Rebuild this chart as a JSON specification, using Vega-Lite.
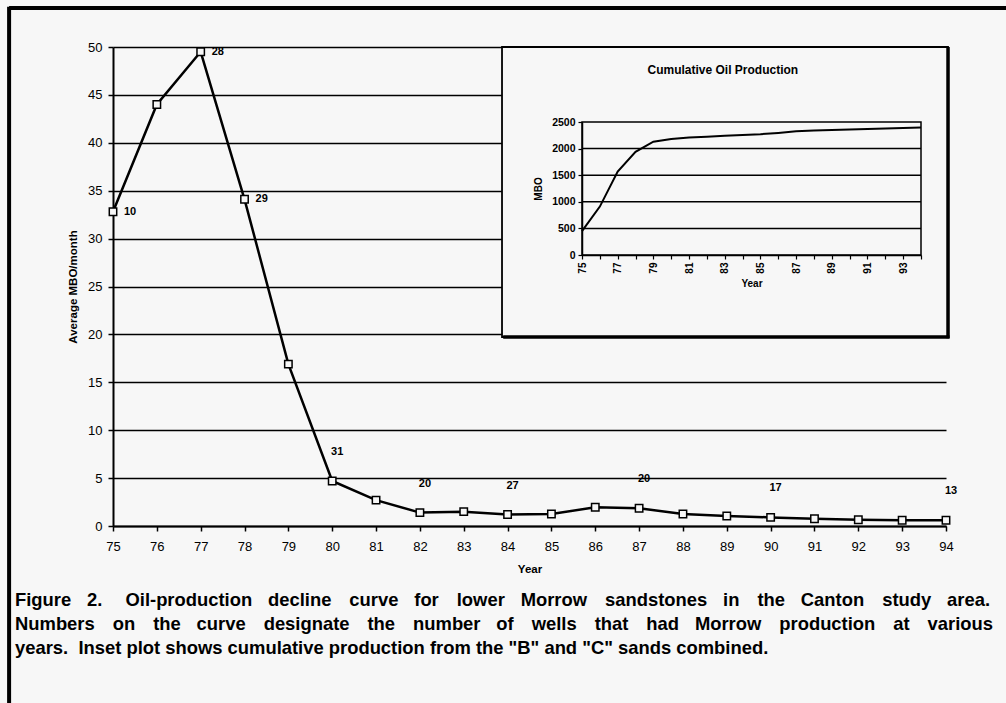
{
  "$schema": "https://vega.github.io/schema/vega-lite/v6.json",
  "width": 833,
  "height": 479,
  "autosize": "none",
  "padding": {"left": 113, "top": 47, "right": 60, "bottom": 177},
  "background": "#f7f7f7",
  "config": {
    "view": {"stroke": null},
    "font": "Liberation Sans",
    "axis": {"labelColor": "#000", "titleColor": "#000", "domainColor": "#000", "tickColor": "#000", "labelOverlap": false, "labelFlush": false}
  },
  "datasets": {
    "main": [
      {"year": 75, "mbo": 32.8, "wells": 10},
      {"year": 76, "mbo": 44.0},
      {"year": 77, "mbo": 49.5, "wells": 28},
      {"year": 78, "mbo": 34.1, "wells": 29},
      {"year": 79, "mbo": 16.9},
      {"year": 80, "mbo": 4.7, "wells": 31},
      {"year": 81, "mbo": 2.7},
      {"year": 82, "mbo": 1.4, "wells": 20},
      {"year": 83, "mbo": 1.5},
      {"year": 84, "mbo": 1.2, "wells": 27},
      {"year": 85, "mbo": 1.25},
      {"year": 86, "mbo": 1.95},
      {"year": 87, "mbo": 1.85, "wells": 20},
      {"year": 88, "mbo": 1.25},
      {"year": 89, "mbo": 1.05},
      {"year": 90, "mbo": 0.9, "wells": 17},
      {"year": 91, "mbo": 0.75},
      {"year": 92, "mbo": 0.65},
      {"year": 93, "mbo": 0.6},
      {"year": 94, "mbo": 0.6, "wells": 13}
    ],
    "cum": [
      {"yr": 75, "cum": 450},
      {"yr": 76, "cum": 910},
      {"yr": 77, "cum": 1570},
      {"yr": 78, "cum": 1940},
      {"yr": 79, "cum": 2130},
      {"yr": 80, "cum": 2180},
      {"yr": 81, "cum": 2210},
      {"yr": 82, "cum": 2225},
      {"yr": 83, "cum": 2240},
      {"yr": 84, "cum": 2255},
      {"yr": 85, "cum": 2270},
      {"yr": 86, "cum": 2295},
      {"yr": 87, "cum": 2325},
      {"yr": 88, "cum": 2340},
      {"yr": 89, "cum": 2350},
      {"yr": 90, "cum": 2360},
      {"yr": 91, "cum": 2370},
      {"yr": 92, "cum": 2380},
      {"yr": 93, "cum": 2385},
      {"yr": 94, "cum": 2395}
    ],
    "insetgrid": [{"g": 500}, {"g": 1000}, {"g": 1500}, {"g": 2000}],
    "one": [{}]
  },
  "layer": [
    {
      "layer": [
        {
          "data": {"name": "main"},
          "mark": {"type": "line", "color": "#000", "strokeWidth": 2.5},
          "encoding": {
            "x": {
              "field": "year", "type": "quantitative",
              "scale": {"domain": [75, 94], "nice": false, "zero": false},
              "axis": {
                "title": "Year",
                "values": [75, 76, 77, 78, 79, 80, 81, 82, 83, 84, 85, 86, 87, 88, 89, 90, 91, 92, 93, 94],
                "format": "d", "grid": false, "tickSize": 5, "tickWidth": 1.5,
                "domainWidth": 2, "labelFontSize": 13, "labelPadding": 9,
                "titleFontSize": 11.5, "titleFontWeight": "bold", "titlePadding": 10, "zindex": 0
              }
            },
            "y": {
              "field": "mbo", "type": "quantitative",
              "scale": {"domain": [0, 50], "nice": false, "zero": true},
              "axis": {
                "title": "Average MBO/month",
                "values": [0, 5, 10, 15, 20, 25, 30, 35, 40, 45, 50],
                "grid": true, "gridColor": "#000", "gridWidth": 1.6, "gridOpacity": 1,
                "tickSize": 5, "tickWidth": 1.5, "domainWidth": 2,
                "labelFontSize": 13, "labelPadding": 6,
                "titleFontSize": 11.5, "titleFontWeight": "bold", "titlePadding": 9, "zindex": 0
              }
            }
          }
        },
        {
          "data": {"name": "main"},
          "mark": {"type": "point", "shape": "square", "size": 55, "filled": true, "fill": "#f7f7f7", "stroke": "#000", "strokeWidth": 1.5, "opacity": 1},
          "encoding": {
            "x": {"field": "year", "type": "quantitative", "title": "Year"},
            "y": {"field": "mbo", "type": "quantitative", "title": "Average MBO/month"}
          }
        },
        {
          "data": {"name": "main"},
          "transform": [{"filter": "datum.wells != null && datum.year <= 78"}],
          "mark": {"type": "text", "align": "left", "baseline": "middle", "dx": 11, "fontSize": 11, "fontWeight": "bold", "color": "#000"},
          "encoding": {
            "x": {"field": "year", "type": "quantitative", "title": "Year"},
            "y": {"field": "mbo", "type": "quantitative", "title": "Average MBO/month"},
            "text": {"field": "wells", "type": "quantitative"}
          }
        },
        {
          "data": {"name": "main"},
          "transform": [{"filter": "datum.wells != null && datum.year >= 80"}],
          "mark": {"type": "text", "align": "center", "baseline": "middle", "dx": 5, "dy": -29, "fontSize": 11, "fontWeight": "bold", "color": "#000"},
          "encoding": {
            "x": {"field": "year", "type": "quantitative", "title": "Year"},
            "y": {"field": "mbo", "type": "quantitative", "title": "Average MBO/month"},
            "text": {"field": "wells", "type": "quantitative"}
          }
        },
        {
          "data": {"name": "one"},
          "mark": {"type": "rule", "color": "#000", "strokeWidth": 4},
          "encoding": {
            "x": {"datum": 72.63, "type": "quantitative"},
            "x2": {"datum": 95.5},
            "y": {"datum": 54.07, "type": "quantitative"}
          }
        },
        {
          "data": {"name": "one"},
          "mark": {"type": "rule", "color": "#000", "strokeWidth": 4},
          "encoding": {
            "x": {"datum": 72.63, "type": "quantitative"},
            "y": {"datum": 54.2, "type": "quantitative"},
            "y2": {"datum": -19.5}
          }
        },
        {
          "data": {"name": "one"},
          "mark": {"type": "rect", "fill": "#f7f7f7", "stroke": "#000", "strokeWidth": 1.8},
          "encoding": {
            "x": {"datum": 83.873, "type": "quantitative"},
            "x2": {"datum": 94.046},
            "y": {"datum": 50, "type": "quantitative"},
            "y2": {"datum": 19.73}
          }
        },
        {
          "data": {"name": "one"},
          "mark": {"type": "rule", "color": "#000", "strokeWidth": 3.5},
          "encoding": {
            "x": {"datum": 94.046, "type": "quantitative"},
            "y": {"datum": 50, "type": "quantitative"},
            "y2": {"datum": 19.6}
          }
        },
        {
          "data": {"name": "one"},
          "mark": {"type": "rule", "color": "#000", "strokeWidth": 3.5},
          "encoding": {
            "x": {"datum": 83.9, "type": "quantitative"},
            "x2": {"datum": 94.08},
            "y": {"datum": 19.73, "type": "quantitative"}
          }
        },
        {
          "data": {"name": "one"},
          "mark": {"type": "text", "text": "Cumulative Oil Production", "align": "center", "baseline": "middle", "fontSize": 12, "fontWeight": "bold", "color": "#000"},
          "encoding": {
            "x": {"datum": 88.91, "type": "quantitative"},
            "y": {"datum": 47.6, "type": "quantitative"}
          }
        },
        {
          "data": {"name": "one"},
          "mark": {
            "type": "text",
            "text": [
              "Figure\u2002\u200a 2.\u2002\u2009\u00a0 Oil-production\u2002\u200a decline\u2002\u2009 curve\u2002\u200a for\u2002\u2009 lower\u2002\u200a Morrow\u2002\u2009 sandstones\u2002\u200a in\u2002\u2009 the\u2002\u200a Canton\u2002\u2009 study\u2002\u200a area.",
              "Numbers\u2002\u2009 on\u2002\u2009 the\u2002\u200a curve\u2002\u2009 designate\u2002\u2009 the\u2002\u2009 number\u2002\u200a of\u2002\u2009 wells\u2002\u2009 that\u2002\u2009 had\u2002\u200a Morrow\u2002\u2009 production\u2002\u2009 at\u2002\u2009 various",
              "years.\u00a0 Inset plot shows cumulative production from the \"B\" and \"C\" sands combined."
            ],
            "align": "left", "baseline": "top", "fontSize": 18.4, "fontWeight": "bold", "color": "#000", "lineHeight": 24
          },
          "encoding": {
            "x": {"datum": 72.765, "type": "quantitative"},
            "y": {"datum": -6.8, "type": "quantitative"}
          }
        }
      ]
    },
    {
      "layer": [
        {
          "data": {"name": "insetgrid"},
          "mark": {"type": "rule", "color": "#000", "strokeWidth": 1.5},
          "encoding": {
            "x": {"datum": 75, "type": "quantitative"},
            "x2": {"datum": 94},
            "y": {"field": "g", "type": "quantitative", "title": "MBO"}
          }
        },
        {
          "data": {"name": "one"},
          "mark": {"type": "rect", "fill": null, "stroke": "#000", "strokeWidth": 1.5},
          "encoding": {
            "x": {"datum": 75, "type": "quantitative"},
            "x2": {"datum": 94},
            "y": {"datum": 0, "type": "quantitative"},
            "y2": {"datum": 2500}
          }
        },
        {
          "data": {"name": "cum"},
          "mark": {"type": "line", "color": "#000", "strokeWidth": 2},
          "encoding": {
            "x": {
              "field": "yr", "type": "quantitative",
              "scale": {"domain": [75, 94], "range": [469, 808], "nice": false, "zero": false},
              "axis": {
                "title": "Year", "orient": "bottom", "offset": -271,
                "values": [75, 76, 77, 78, 79, 80, 81, 82, 83, 84, 85, 86, 87, 88, 89, 90, 91, 92, 93, 94],
                "labelExpr": "datum.value % 2 == 1 ? datum.label : ''",
                "labelAngle": -90, "labelFontSize": 10, "labelFontWeight": "bold",
                "tickSize": 4, "tickWidth": 1.2, "labelPadding": 3, "domainWidth": 1.5,
                "titleFontSize": 10, "titleFontWeight": "bold", "titlePadding": 5, "grid": false, "zindex": 1
              }
            },
            "y": {
              "field": "cum", "type": "quantitative",
              "scale": {"domain": [0, 2500], "range": [208, 75], "nice": false},
              "axis": {
                "title": "MBO", "orient": "left", "offset": -469,
                "values": [0, 500, 1000, 1500, 2000, 2500], "format": "d",
                "labelFontSize": 10.5, "labelFontWeight": "bold",
                "tickSize": 4, "tickWidth": 1.2, "labelPadding": 3, "domainWidth": 1.5,
                "titleFontSize": 10, "titleFontWeight": "bold", "titlePadding": 8, "grid": false, "zindex": 1
              }
            }
          }
        }
      ]
    }
  ],
  "resolve": {
    "scale": {"x": "independent", "y": "independent"},
    "axis": {"x": "independent", "y": "independent"}
  }
}
